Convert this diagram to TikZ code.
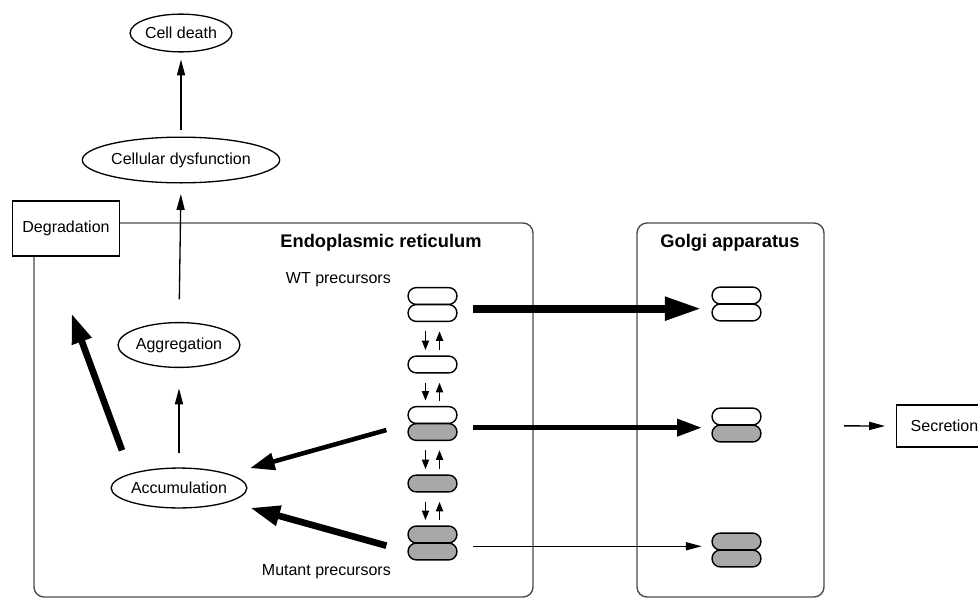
\documentclass[tikz,border=0pt]{standalone}
\usepackage{fontspec}
\setmainfont{Liberation Sans}
\definecolor{mutgray}{rgb}{0.66,0.66,0.66}
\definecolor{framegray}{rgb}{0.3,0.3,0.3}
\usetikzlibrary{arrows.meta,shapes.geometric,calc}
\tikzset{
  lbl/.style={font=\fontsize{9.1}{11}\selectfont},
  ttl/.style={font=\fontsize{10.4}{12}\selectfont\bfseries},
  oval/.style={ellipse,draw,line width=0.75pt,inner sep=0pt,lbl},
  box/.style={rectangle,draw,line width=0.7pt,fill=white,inner sep=0pt,lbl},
  pill/.style={rectangle,draw,line width=0.8pt,rounded corners=4.7pt,minimum width=27.8pt,minimum height=9.6pt,inner sep=0pt},
  wt/.style={pill,fill=white},
  mut/.style={pill,fill=mutgray},
  compartment/.style={draw=framegray,line width=0.8pt,rounded corners=5.7pt},
  thinarrow/.style={line width=0.75pt,-{Triangle[length=9pt,width=4.6pt]}},
  swaparrow/.style={line width=0.9pt,-{Triangle[length=5.4pt,width=4pt]}},
  medarrow/.style={line width=2.6pt,-{Triangle[length=14pt,width=9.5pt]}},
  thickarrow/.style={line width=3.8pt,-{Triangle[length=17pt,width=11pt]}},
  heavyarrow/.style={line width=4.6pt,-{Triangle[length=21pt,width=12.5pt]}}
}

\begin{document}
\begin{tikzpicture}[x=0.02cm,y=-0.02cm]
  \clip (0,0) rectangle (978,599);

    \draw[compartment] (34,223) rectangle (533,597);
    \draw[compartment] (637,223) rectangle (824,597);
    \node[ttl] (ertitle) at (381,243) {Endoplasmic reticulum};
    \node[ttl] (gotitle) at (730,243) {Golgi apparatus};
    \node[lbl,anchor=east] (wtlab) at (397,280) {WT precursors};
    \node[lbl,anchor=east] (mutlab) at (397,572) {Mutant precursors};

    \node[oval,minimum width=56.7pt,minimum height=21.5pt] (death) at (181,33) {Cell death};
    \node[oval,minimum width=106pt,minimum height=26pt] (dysf) at (181,160) {Cellular dysfunction};
    \node[oval,minimum width=64.6pt,minimum height=25.5pt] (aggr) at (179,345) {Aggregation};
    \node[oval,minimum width=75.4pt,minimum height=22.7pt] (accum) at (179,488) {Accumulation};
    \node[box,minimum width=61.2pt,minimum height=31.2pt] (degr) at (66,228.5) {Degradation};
    \node[box,minimum width=55pt,minimum height=23.8pt] (secr) at (944.5,426) {Secretion};

    \node[wt] (er1a) at (432.5,296) {};
    \node[wt] (er1b) at (432.5,313) {};
    \node[wt] (er2) at (432.5,364.5) {};
    \node[wt] (er3a) at (432.5,415) {};
    \node[mut] (er3b) at (432.5,432) {};
    \node[mut] (er4) at (432.5,483.5) {};
    \node[mut] (er5a) at (432.5,534.5) {};
    \node[mut] (er5b) at (432.5,551.5) {};

    \node[wt] (go1a) at (736.5,295.5) {};
    \node[wt] (go1b) at (736.5,312.5) {};
    \node[wt] (go2a) at (736.5,416.5) {};
    \node[mut] (go2b) at (736.5,433.5) {};
    \node[mut] (go3a) at (736.5,541.5) {};
    \node[mut] (go3b) at (736.5,558.5) {};

    \foreach \up/\dn in {er1b/er2, er2/er3a, er3b/er4, er4/er5a} {
      \draw[swaparrow,shorten <=5.2pt,shorten >=3pt] ([xshift=-4pt]\up.south) -- ([xshift=-4pt]\dn.north);
      \draw[swaparrow,shorten <=3pt,shorten >=5.2pt] ([xshift=4pt]\dn.north) -- ([xshift=4pt]\up.south);
    }

    \coordinate (wtout) at ([yshift=-2pt]er1a.south east);
    \coordinate (hetout) at ([yshift=-2pt]er3a.south east);
    \coordinate (mutout) at ([yshift=-1.5pt]er5a.south east);
    \draw[heavyarrow,shorten <=9pt,shorten >=5.5pt] (wtout) -- (wtout -| go1a.west);
    \draw[medarrow,shorten <=9pt,shorten >=5.5pt] (hetout) -- (hetout -| go2a.west);
    \draw[thinarrow,shorten <=9pt,shorten >=5.5pt] (mutout) -- (mutout -| go3a.west);
    \draw[thinarrow,shorten <=47pt,shorten >=6pt] (go2a.south east) -- (secr.west);

    \draw[medarrow,shorten <=12.4pt,shorten >=42pt] (er3a.south west) -- (accum.center);
    \draw[thickarrow,shorten <=12.4pt,shorten >=42pt] (er5b.west) -- (accum.center);
    \draw[thickarrow,shorten <=14pt,shorten >=34.5pt] (accum.north west) -- ([xshift=-8.8pt]degr.south);

    \draw[thinarrow,shorten <=8pt,shorten >=11.6pt] (accum.north) -- (aggr.south);
    \draw[thinarrow,shorten <=12.8pt,shorten >=6pt] (aggr.north) -- (dysf.south);
    \draw[thinarrow,shorten <=3.7pt,shorten >=4pt] (dysf.north) -- (death.south);

  \end{tikzpicture}
\end{document}
